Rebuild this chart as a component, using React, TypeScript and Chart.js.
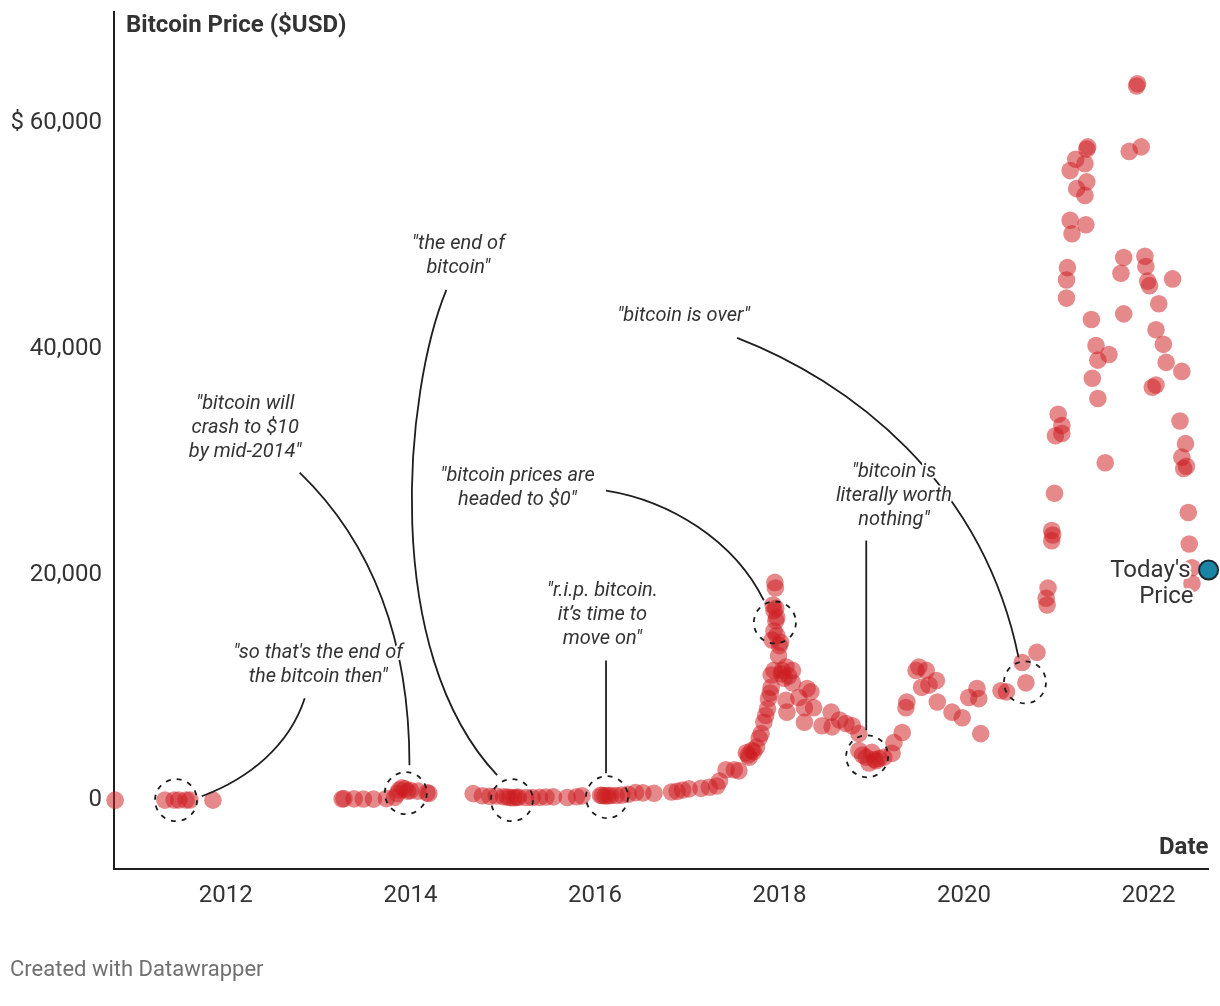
import { useEffect, useRef } from 'react'
import { Chart, registerables } from 'chart.js'

Chart.register(...registerables)

// price samples (decimal year, USD), split by era
const years2011 = [2010.8, 2011.34, 2011.44, 2011.49, 2011.57, 2011.61, 2011.86]
const prices2011 = [0.1, 8, 18, 15, 14, 13, 3]

const years2013 = [2013.26, 2013.28, 2013.39, 2013.49, 2013.6, 2013.74, 2013.83, 2013.86, 2013.88, 2013.91, 2013.94, 2013.97, 2014.0, 2014.08, 2014.18, 2014.2]
const prices2013 = [110, 140, 115, 100, 95, 140, 250, 600, 900, 1100, 1000, 800, 850, 800, 650, 600]

const years2015 = [2014.68, 2014.78, 2014.86, 2014.93, 2015.01, 2015.05, 2015.08, 2015.12, 2015.15, 2015.17, 2015.25, 2015.32, 2015.4, 2015.47, 2015.55, 2015.7, 2015.8, 2015.86, 2016.06, 2016.08, 2016.11, 2016.14, 2016.17, 2016.23, 2016.29, 2016.36, 2016.44, 2016.52]
const prices2015 = [580, 390, 350, 370, 300, 280, 230, 220, 250, 260, 240, 235, 250, 280, 290, 240, 310, 380, 430, 420, 380, 400, 410, 420, 450, 530, 670, 650]

const years2017 = [2016.64, 2016.83, 2016.89, 2016.95, 2017.02, 2017.15, 2017.24, 2017.32, 2017.35, 2017.42, 2017.51, 2017.56, 2017.64, 2017.66, 2017.67, 2017.7, 2017.72, 2017.75, 2017.78, 2017.8, 2017.83, 2017.85, 2017.87, 2017.88, 2017.9, 2017.91, 2017.91, 2017.92, 2017.93, 2017.94, 2017.94, 2017.94, 2017.95, 2017.955, 2017.96, 2017.96, 2017.97, 2017.97, 2017.99, 2018.0, 2018.01, 2018.02, 2018.03, 2018.05, 2018.07, 2018.07, 2018.08, 2018.1, 2018.14, 2018.14]
const prices2017 = [620, 720, 780, 900, 1000, 1050, 1150, 1250, 1700, 2700, 2700, 2600, 4200, 4000, 3800, 4400, 4300, 4700, 5500, 5900, 6900, 7500, 8100, 9000, 9500, 10000, 11100, 14200, 17300, 11500, 15000, 16800, 19300, 18800, 15900, 17000, 14600, 16200, 12800, 13700, 14000, 11200, 11500, 10800, 11800, 8850, 7800, 11000, 11500, 10400]

const years2018 = [2018.21, 2018.27, 2018.27, 2018.3, 2018.34, 2018.37, 2018.46, 2018.56, 2018.57, 2018.65, 2018.72, 2018.79, 2018.86, 2018.86, 2018.9, 2018.94, 2018.97, 2019.0, 2019.03, 2019.05, 2019.08, 2019.13, 2019.22, 2019.24, 2019.33, 2019.37, 2019.38]
const prices2018 = [9100, 8200, 6900, 9900, 9600, 8200, 6600, 7800, 6500, 7100, 6800, 6600, 5900, 4400, 4000, 3800, 3300, 4250, 3600, 3500, 3700, 3800, 4150, 5100, 6000, 8200, 8700]

const years2019 = [2019.48, 2019.51, 2019.54, 2019.59, 2019.62, 2019.7, 2019.71, 2019.87, 2019.98, 2020.05, 2020.14, 2020.16, 2020.18, 2020.4, 2020.46, 2020.63, 2020.67, 2020.79]
const prices2019 = [11500, 11800, 10000, 11500, 10200, 10600, 8700, 7800, 7300, 9100, 9900, 9000, 5900, 9700, 9600, 12200, 10400, 13100]

const years2021 = [2020.89, 2020.9, 2020.91, 2020.95, 2020.95, 2020.96, 2020.98, 2020.99, 2021.02, 2021.06, 2021.06, 2021.11, 2021.11, 2021.12, 2021.15, 2021.15, 2021.17, 2021.21, 2021.22, 2021.31, 2021.31, 2021.32, 2021.33, 2021.33, 2021.34, 2021.38, 2021.39, 2021.43, 2021.45, 2021.45, 2021.53, 2021.57, 2021.7, 2021.73, 2021.73, 2021.79, 2021.87, 2021.88, 2021.92, 2021.96, 2021.97, 2021.99, 2022.01]
const prices2021 = [17900, 17300, 18800, 23900, 23000, 23500, 27200, 32300, 34200, 33200, 32500, 44500, 46100, 47200, 51400, 55800, 50200, 56800, 54200, 56400, 53600, 51000, 54800, 57700, 57900, 42600, 37400, 40300, 39000, 35600, 29900, 39500, 46700, 48100, 43100, 57500, 63300, 63500, 57900, 48200, 47300, 46000, 45600]

const years2022 = [2022.04, 2022.08, 2022.08, 2022.11, 2022.16, 2022.19, 2022.26, 2022.34, 2022.36, 2022.36, 2022.38, 2022.4, 2022.41, 2022.43, 2022.44, 2022.47, 2022.47]
const prices2022 = [36600, 36800, 41700, 44000, 40400, 38800, 46200, 33600, 38000, 30400, 29400, 31600, 29600, 25500, 22700, 20600, 19200]

const todayYear = 2022.65
const todayPrice = 20400

const xTicks = [2012, 2014, 2016, 2018, 2020, 2022]
const yTicks = [0, 20000, 40000, 60000]

const allYears = [...years2011, ...years2013, ...years2015, ...years2017, ...years2018, ...years2019, ...years2021, ...years2022]
const allPrices = [...prices2011, ...prices2013, ...prices2015, ...prices2017, ...prices2018, ...prices2019, ...prices2021, ...prices2022]

// quotes: first line anchor and connector path, both in (year, price)
const quotes = [
  { lines: ['"so that\'s the end of', 'the bitcoin then"'], at: [2013.0, 13010], path: [[2012.855, 9030], [2012.69, 4870], [2012.26, 1950], [2011.74, 350]] },
  { lines: ['"bitcoin will', 'crash to $10', 'by mid-2014"'], at: [2012.21, 35130], path: [[2012.8, 29030], [2013.45, 23900], [2013.99, 15930], [2013.99, 3100]] },
  { lines: ['"the end of', 'bitcoin"'], at: [2014.52, 49290], path: [[2014.39, 45220], [2013.94, 36290], [2013.67, 13280], [2014.94, 2210]] },
  { lines: ['"bitcoin prices are', 'headed to $0"'], at: [2015.16, 28760], path: [[2016.12, 27440], [2016.81, 26550], [2017.51, 23010], [2017.83, 17700]] },
  { lines: ['"r.i.p. bitcoin.', 'it\u2019s time to', 'move on"'], at: [2016.08, 18500], path: [[2016.12, 12390], [2016.12, 2390]] },
  { lines: ['"bitcoin is', 'literally worth', 'nothing"'], at: [2019.24, 29120], path: [[2018.94, 23010], [2018.94, 6200]] },
  { lines: ['"bitcoin is over"'], at: [2016.96, 42920], path: [[2017.54, 40980], [2018.75, 37170], [2020.2, 28320], [2020.59, 12660]] },
]

const rings = [
  [2011.46, 0],
  [2013.95, 620],
  [2015.1, 0],
  [2016.13, 270],
  [2017.95, 15750],
  [2018.95, 3890],
  [2020.66, 10440],
]

const haloText = (ctx: CanvasRenderingContext2D, text: string, x: number, y: number) => {
  ctx.strokeStyle = '#ffffff'
  ctx.lineWidth = 4
  ctx.lineJoin = 'round'
  ctx.strokeText(text, x, y)
  ctx.fillStyle = '#333333'
  ctx.fillText(text, x, y)
}

const overlay = {
  id: 'overlay',
  afterDatasetsDraw(chart: any) {
    const { ctx, chartArea, scales } = chart
    const px = (v: number) => scales.x.getPixelForValue(v)
    const py = (v: number) => scales.y.getPixelForValue(v)
    ctx.save()

    // dashed rings
    ctx.strokeStyle = '#1e1e1e'
    ctx.lineWidth = 1.8
    ctx.setLineDash([5, 6])
    rings.forEach(([a, b]) => {
      ctx.beginPath()
      ctx.arc(px(a), py(b), 21, 0, Math.PI * 2)
      ctx.stroke()
    })
    ctx.setLineDash([])

    // connectors
    ctx.lineWidth = 1.8
    quotes.forEach(q => {
      const p = q.path
      ctx.beginPath()
      ctx.moveTo(px(p[0][0]), py(p[0][1]))
      if (p.length === 4) {
        ctx.bezierCurveTo(px(p[1][0]), py(p[1][1]), px(p[2][0]), py(p[2][1]), px(p[3][0]), py(p[3][1]))
      } else {
        ctx.lineTo(px(p[1][0]), py(p[1][1]))
      }
      ctx.stroke()
    })

    // quote text
    ctx.font = 'italic 20px Roboto'
    ctx.textAlign = 'center'
    ctx.textBaseline = 'middle'
    quotes.forEach(q => {
      q.lines.forEach((t, i) => haloText(ctx, t, px(q.at[0]), py(q.at[1]) + i * 24))
    })

    // today's price label
    ctx.font = '24px Roboto'
    ctx.textAlign = 'right'
    const tx = px(todayYear) - 15
    const ty = py(todayPrice)
    haloText(ctx, "Today's", tx - 3, ty + 1)
    haloText(ctx, 'Price', tx, ty + 27)

    // titles
    ctx.fillStyle = '#333333'
    ctx.font = 'bold 24px Roboto'
    ctx.textBaseline = 'alphabetic'
    ctx.textAlign = 'left'
    ctx.fillText('Bitcoin Price ($USD)', chartArea.left + 12, chartArea.top + 20)
    ctx.textAlign = 'right'
    ctx.fillText('Date', chartArea.right, chartArea.bottom - 15)

    ctx.textAlign = 'left'
    ctx.font = '22px Roboto'
    ctx.fillStyle = '#707070'
    ctx.fillText('Created with Datawrapper', 10, 976)
    ctx.restore()
  },
}

export default function App() {
  const canvasRef = useRef<HTMLCanvasElement>(null)

  useEffect(() => {
    if (!canvasRef.current) return
    const chart = new Chart(canvasRef.current, {
      type: 'scatter',
      data: {
        datasets: [
          {
            data: [{ x: todayYear, y: todayPrice }],
            pointRadius: 9.5,
            pointHoverRadius: 9.5,
            backgroundColor: '#1a84a5',
            borderColor: '#1c2b33',
            borderWidth: 2,
            clip: false,
          },
          {
            data: allYears.map((yr, i) => ({ x: yr, y: allPrices[i] })),
            pointRadius: 8.8,
            pointHoverRadius: 8.8,
            backgroundColor: 'rgba(205, 28, 32, 0.52)',
            borderWidth: 0,
            clip: false,
          },
        ],
      },
      options: {
        animation: false,
        responsive: false,
        layout: { padding: { top: 10, right: 8, bottom: 0, left: 0 } },
        plugins: { legend: { display: false }, tooltip: { enabled: false } },
        scales: {
          x: {
            type: 'linear',
            min: 2010.788,
            max: 2022.649,
            grid: { display: false, drawTicks: false },
            border: { display: true, color: '#1e1e1e', width: 2 },
            afterBuildTicks: (axis: any) => { axis.ticks = xTicks.map(value => ({ value })) },
            afterFit: (axis: any) => {
              axis.height = 137
              axis.paddingLeft = 0
              axis.paddingRight = 0
            },
            ticks: {
              padding: 13,
              color: '#333333',
              font: { family: 'Roboto', size: 24 },
              callback: (v: any) => String(v),
            },
          },
          y: {
            min: -6100,
            max: 69900,
            grid: { display: false, drawTicks: false },
            border: { display: true, color: '#1e1e1e', width: 2 },
            afterBuildTicks: (axis: any) => { axis.ticks = yTicks.map(value => ({ value })) },
            afterFit: (axis: any) => {
              axis.width = 114
              axis.paddingTop = 0
              axis.paddingBottom = 0
            },
            ticks: {
              padding: 12,
              color: '#333333',
              font: { family: 'Roboto', size: 24 },
              callback: (v: any) => (v === 60000 ? '$ 60,000' : Number(v).toLocaleString('en-US')),
            },
          },
        },
      },
      plugins: [overlay],
    })
    return () => chart.destroy()
  }, [])

  return (
    <div style={{ position: 'fixed', left: 0, top: 0, width: 1220, height: 1006, background: '#fff' }}>
      <canvas ref={canvasRef} width={1220} height={1006} style={{ width: 1220, height: 1006 }} />
    </div>
  )
}
